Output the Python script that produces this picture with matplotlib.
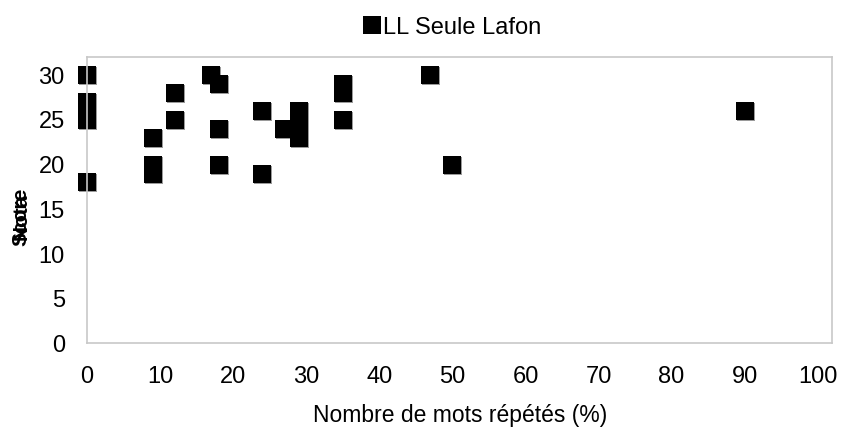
import matplotlib
matplotlib.use("Agg")
import matplotlib.pyplot as plt
import matplotlib.transforms as mtransforms

plt.rcParams['font.family'] = ['Liberation Sans', 'DejaVu Sans']

# values
mots_repetes = [0, 0, 0, 0, 0, 9, 9, 9, 12, 12, 17, 18, 18, 18,
                24, 24, 27, 29, 29, 29, 29, 35, 35, 35, 47, 50, 90]
score = [30, 27, 26, 25, 18, 23, 20, 19, 28, 25, 30, 29, 24, 20,
         26, 19, 24, 26, 25, 24, 23, 29, 28, 25, 30, 20, 26]
x_ticks = list(range(0, 101, 10))
y_ticks = list(range(0, 31, 5))
serie_nom = "LL Seule Lafon"

fig = plt.figure(figsize=(8.45, 4.37), dpi=100)
ax = fig.add_axes([0.103, 0.214, 0.882, 0.655])

# faint grey shadow under each marker, like the Excel export
shadow = mtransforms.offset_copy(ax.transData, fig=fig, x=1, y=-1, units='dots')
ax.plot(mots_repetes, score, 's', color='#9a9a9a', markersize=13.5,
        markeredgewidth=0, transform=shadow, clip_on=False)
ax.plot(mots_repetes, score, 's', color='black', markersize=13.5,
        markeredgewidth=0, clip_on=False, label=serie_nom)

ax.set_xlim(0, 102)
ax.set_ylim(0, 32)
ax.set_xticks(x_ticks)
ax.set_yticks(y_ticks)
ax.tick_params(length=0, labelsize=17)
ax.tick_params(axis='x', pad=16)
ax.tick_params(axis='y', pad=16)
for s in ax.spines.values():
    s.set_color('#c8c8c8')
    s.set_linewidth(1.2)

ax.set_xlabel("Nombre de mots répétés (%)", fontsize=16.5, labelpad=12)

# the y label in the source is two words printed on top of each other
for mot in ["Score", "Nota"]:
    fig.text(0.025, 0.505, mot, rotation=90, fontsize=15, fontweight='bold',
             ha='center', va='center')

leg = fig.legend(loc='upper center', bbox_to_anchor=(0.535, 1.0), frameon=False,
                 fontsize=17, handletextpad=0.05, markerscale=1.0,
                 handlelength=0.8, borderaxespad=0.3)

fig.savefig("out.png", dpi=100)
